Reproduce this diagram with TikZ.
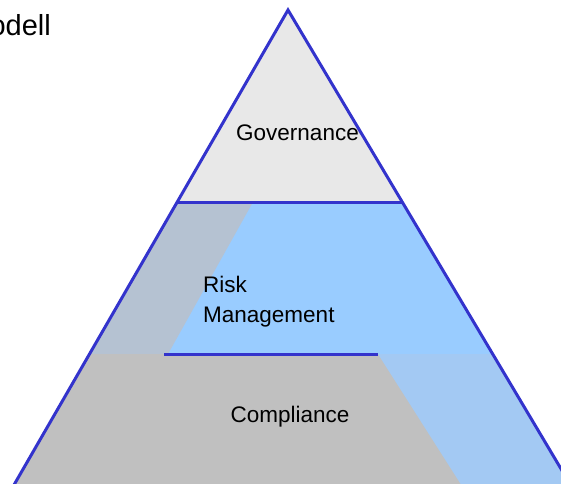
\documentclass[tikz,border=0pt]{standalone}
\usepackage{fontspec}
\setmainfont{Liberation Sans}
\definecolor{edgeblue}{HTML}{3333CC}
\definecolor{govgray}{HTML}{E8E8E8}
\definecolor{riskblue}{HTML}{99CCFF}
\definecolor{compgray}{HTML}{C0C0C0}
\definecolor{mixA}{HTML}{B5C2D2}
\definecolor{mixB}{HTML}{A3C9F3}
\begin{document}
\begin{tikzpicture}[x=1pt,y=-1pt,
  edge/.style={draw=edgeblue,line width=3pt},
  label/.style={inner sep=0pt,font=\fontsize{22.5}{30}\selectfont}]
\useasboundingbox (0,0) rectangle (561,483);
% triangle corners
\coordinate (apex) at (288,10);
\coordinate (bl) at (288-0.577*500,510);
\coordinate (br) at (288+0.595*500,510);
% divider points
\coordinate (g1) at (288-0.577*192,202);
\coordinate (g2) at (288+0.595*192,202);
\coordinate (r1) at (164,354);
\coordinate (r2) at (378,354);
\begin{scope}
  \clip (apex) -- (bl) -- (br) -- cycle;
  \fill[govgray] (0,0) rectangle (600,202);
  \fill[riskblue] (0,202) rectangle (600,354);
  \fill[mixA] (0,202) -- (253,202) -- (168,354) -- (0,354) -- cycle;
  \fill[compgray] (0,354) rectangle (600,520);
  \fill[mixB] (r2) -- (600,354) -- (600,520) -- (378+0.636*166,520) -- cycle;
\end{scope}
\draw[edge] (g1) -- (g2);
\draw[edge] (r1) -- (r2);
\draw[edge,line join=miter] (bl) -- (apex) -- (br);
\node[label,anchor=base] (gov) at (297.5,140) {Governance};
\node[label,anchor=base west,align=left] (risk) at (203,322) {Risk\\Management};
\node[label,anchor=base] (comp) at (290,422) {Compliance};
\node[inner sep=0pt,anchor=base east,font=\fontsize{29}{34}\selectfont] (modell) at (51,35) {Modell};
\end{tikzpicture}
\end{document}
